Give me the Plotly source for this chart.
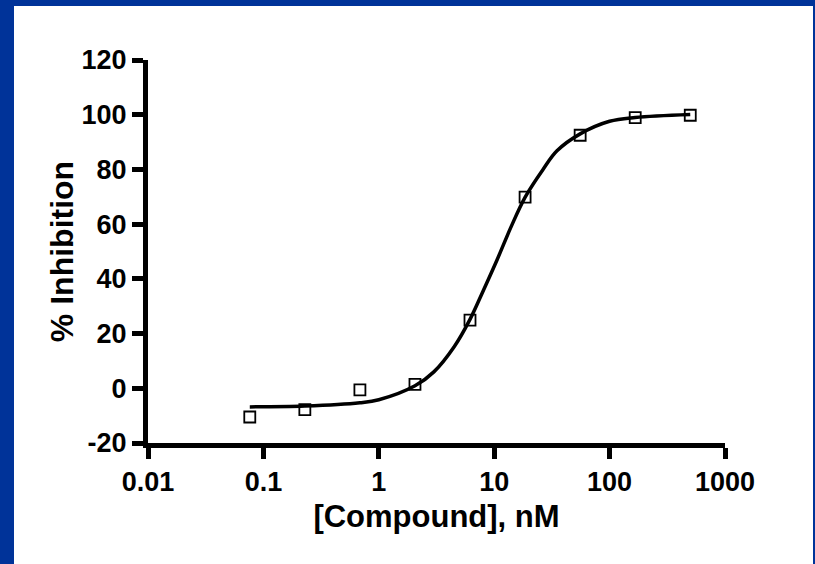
import plotly.graph_objects as go

# Measured data (3-fold dilution series, nM) and % inhibition
conc_nM = [0.0762, 0.2286, 0.686, 2.058, 6.17, 18.52, 55.56, 166.7, 500.0]
inhibition = [-10.5, -7.8, -0.6, 1.4, 24.9, 69.9, 92.5, 98.9, 99.8]

# Fitted dose-response curve at sample concentrations
curve_x = [0.0762, 0.229, 0.686, 1.0, 2.06, 3.0, 4.5, 6.17, 8.0, 10.6,
           14.0, 18.5, 26.5, 35.0, 55.6, 100.0, 166.7, 500.0]
curve_y = [-6.8, -6.5, -5.3, -4.2, 0.9, 6.0, 15.2, 25.2, 35.5, 47.0,
           59.0, 69.8, 80.0, 86.8, 93.0, 97.6, 99.0, 100.1]

x_tickvals = [0.01, 0.1, 1, 10, 100, 1000]
x_ticktext = ["0.01", "0.1", "1", "10", "100", "1000"]
y_tickvals = [-20, 0, 20, 40, 60, 80, 100, 120]
y_ticktext = ["-20", "0", "20", "40", "60", "80", "100", "120"]

FONT = "Liberation Sans, Arial, Helvetica, sans-serif"

fig = go.Figure()
fig.add_trace(go.Scatter(
    x=curve_x, y=curve_y, mode="lines",
    line=dict(color="black", width=3.5, shape="spline", smoothing=1.0),
    hoverinfo="skip", showlegend=False))
fig.add_trace(go.Scatter(
    x=conc_nM, y=inhibition, mode="markers",
    marker=dict(symbol="square-open", size=11, color="black",
                line=dict(color="black", width=1.8)),
    showlegend=False))

# white page inside blue frame
fig.add_shape(type="rect", xref="paper", yref="paper",
              x0=(14 - 148) / 577, x1=(813 - 148) / 577,
              y0=-0.4, y1=(443 - 6) / 383,
              fillcolor="white", line=dict(width=0), layer="below")

fig.update_layout(
    width=815, height=564,
    margin=dict(l=148, r=90, t=60, b=121),
    paper_bgcolor="#003399",
    plot_bgcolor="rgba(0,0,0,0)",
    font=dict(family=FONT, color="black"),
    xaxis=dict(
        type="log", range=[-2, 3],
        tickvals=x_tickvals, ticktext=x_ticktext,
        showgrid=False, zeroline=False,
        showline=True, linewidth=5, linecolor="black",
        ticks="outside", ticklen=11, tickwidth=5, tickcolor="black",
        tickfont=dict(family=FONT, size=27, weight="bold", color="black"),
        title=dict(text="[Compound], nM", standoff=10,
                   font=dict(family=FONT, size=31, weight="bold", color="black")),
    ),
    yaxis=dict(
        range=[-20, 120], tickvals=y_tickvals, ticktext=y_ticktext,
        showgrid=False, zeroline=False,
        showline=True, linewidth=5, linecolor="black",
        ticks="outside", ticklen=11, tickwidth=5, tickcolor="black",
        tickfont=dict(family=FONT, size=27, weight="bold", color="black"),
        title=dict(text="% Inhibition", standoff=0,
                   font=dict(family=FONT, size=32, weight="bold", color="black")),
    ),
)

fig.write_html("out.html", config={"displayModeBar": False},
               post_script="document.body.style.margin='0';document.body.style.padding='0';")
